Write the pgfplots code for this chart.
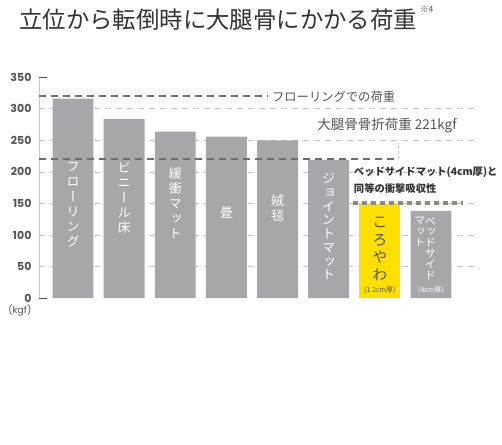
\documentclass[border=0pt]{standalone}
\usepackage{fontspec}
\usepackage{pgfplots}
\pgfplotsset{compat=1.18}
\setmainfont{Noto Sans CJK JP}
\newfontfamily\vjp{Noto Sans CJK JP}[RawFeature=+vert]
\newfontfamily\numfont{Poppins}
\definecolor{barGray}{HTML}{A8A6AA}
\definecolor{barYellow}{HTML}{FFDF00}
\definecolor{titleC}{HTML}{333333}
\definecolor{textC}{HTML}{555555}
\definecolor{tickC}{HTML}{555555}
\definecolor{dashC}{HTML}{6E6E6E}
\definecolor{gridC}{HTML}{C8C8C8}
\definecolor{axisC}{HTML}{CCCCCC}
\definecolor{oliveC}{HTML}{8C8C7C}
\definecolor{koroC}{HTML}{55553F}
\begin{document}
\begin{tikzpicture}
\useasboundingbox (0,0) rectangle (502pt,-444pt);
\node[anchor=west, inner sep=0, text=titleC, font=\fontsize{23.4}{26}\selectfont] at (19pt,-20pt) {立位から転倒時に大腿骨にかかる荷重};
\node[anchor=west, inner sep=0, text=textC, font=\fontsize{8.5}{9}\selectfont] at (420pt,-9pt) {※4};
\begin{axis}[
    at={(39pt,-298pt)}, anchor=south west,
    scale only axis, width=438pt, height=220.7pt,
    xmin=-0.665, xmax=7.9, ymin=0, ymax=350,
    axis y line*=left, axis x line=none,
    y axis line style={draw=axisC, line width=0.8pt},
    ytick={50,100,...,300},
    extra y ticks={0,350},
    extra y tick style={grid=none, major tick length=8pt, tick style={draw=tickC, line width=1pt}},
    major tick length=0pt,
    tick align=inside,
    ymajorgrids=true,
    grid style={draw=gridC, dash pattern=on 6pt off 5pt, line width=0.7pt},
    yticklabel style={font=\numfont\bfseries\fontsize{11}{11}\selectfont, text=tickC, xshift=-4pt},
    /pgf/number format/assume math mode=true,
    clip=false,
]
\addplot[ybar, bar width=0.8, bar shift=0pt, fill=barGray, draw=none]
    coordinates {(0,316)(1,284)(2,264)(3,256)(4,250)(5,219)(7,138)};
\addplot[ybar, bar width=0.8, bar shift=0pt, fill=barYellow, draw=none]
    coordinates {(6,149)};

% reference lines
\draw[dashC, line width=2pt, dash pattern=on 7pt off 5pt] (axis cs:-0.665,320) -- (axis cs:3.81,320);
\node[anchor=west, inner sep=0, text=textC, font=\fontsize{12.3}{12.3}\selectfont] at (axis cs:3.89,319) {フローリングでの荷重};
\draw[dashC, line width=2pt, dash pattern=on 7pt off 5pt] (axis cs:-0.665,221) -- (axis cs:6.32,221);
\draw[gridC, line width=0.8pt, dash pattern=on 3pt off 2pt] (axis cs:6.37,221) -- (axis cs:6.37,245.8);
\node[anchor=center, inner sep=0, text=textC, font=\fontsize{13.5}{13.5}\selectfont] at (axis cs:6.14,274) {大腿骨骨折荷重 221kgf};
\draw[oliveC, line width=4pt, dash pattern=on 5pt off 4pt] (axis cs:5.47,151) -- (axis cs:7.63,151);
\node[anchor=north west, align=left, inner sep=0, text=titleC, font=\bfseries\fontsize{10.3}{17}\selectfont] at (axis cs:5.49,209) {ベッドサイドマット(4cm厚)と\\同等の衝撃吸収性};

% bar labels
\tikzset{vlab/.style={align=center, inner sep=0, text=white, font=\vjp\fontsize{13}{15}\selectfont}}
\node[vlab, anchor=north] at (axis cs:0,215.7) {フ\\ロ\\ー\\リ\\ン\\グ};
\node[vlab, anchor=north] at (axis cs:1,215.7) {ビ\\ニ\\ー\\ル\\床};
\node[vlab, anchor=north] at (axis cs:2,207.7) {緩\\衝\\マ\\ッ\\ト};
\node[vlab, anchor=center] at (axis cs:3,136) {畳};
\node[vlab, anchor=center] at (axis cs:4,143) {絨\\毯};
\node[vlab, anchor=north, font=\vjp\fontsize{13}{13.75}\selectfont] at (axis cs:5,198) {ジ\\ョ\\イ\\ン\\ト\\マ\\ッ\\ト};
\node[vlab, anchor=north, text=koroC, font=\vjp\fontsize{15}{17.5}\selectfont] at (axis cs:6,128.4) {こ\\ろ\\や\\わ};
\node[inner sep=0, text=koroC, font=\fontsize{7}{7}\selectfont] at (axis cs:6,12.7) {(1.2cm厚)};
\node[vlab, anchor=north, font=\vjp\fontsize{11}{10.8}\selectfont] at (axis cs:6.99,128.4) {ベ\\ッ\\ド\\サ\\イ\\ド};
\node[vlab, anchor=north, font=\vjp\fontsize{11}{10.8}\selectfont] at (axis cs:6.785,128.4) {マ\\ッ\\ト};
\node[inner sep=0, text=white, font=\fontsize{7}{7}\selectfont] at (axis cs:7,12.7) {(4cm厚)};

\node[inner sep=0, text=textC, font=\numfont\fontsize{9.5}{9.5}\selectfont] at (axis cs:-1.04,-19) {(kgf)};
\end{axis}
\end{tikzpicture}
\end{document}
